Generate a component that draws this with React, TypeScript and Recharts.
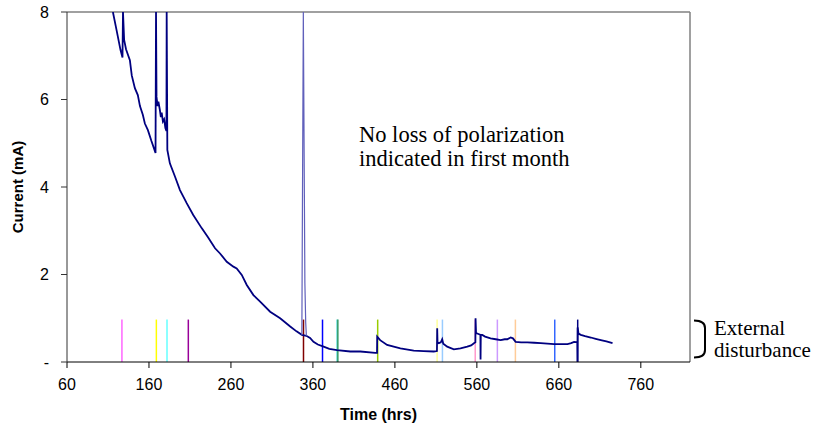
import React from 'react';
import { LineChart, Line, XAxis, YAxis, ReferenceLine } from 'recharts';

// Current decay (mA) over time (hrs)
const currentData = [
  { t: 116, v: 8.0 }, { t: 120.4, v: 7.59 }, { t: 125.3, v: 7.13 }, { t: 127.7, v: 6.96 },
  { t: 128.3, v: 8.0 }, { t: 129.7, v: 7.36 }, { t: 132, v: 7.15 }, { t: 136.7, v: 6.9 },
  { t: 139, v: 6.55 }, { t: 142.8, v: 6.26 }, { t: 146.4, v: 6.1 }, { t: 149, v: 5.85 },
  { t: 152.5, v: 5.65 }, { t: 155, v: 5.45 }, { t: 158.7, v: 5.3 }, { t: 163, v: 5.05 },
  { t: 168, v: 4.78 }, { t: 168.6, v: 8.0 }, { t: 169.2, v: 6.06 }, { t: 170.5, v: 5.85 },
  { t: 171.5, v: 5.95 }, { t: 173.3, v: 5.76 }, { t: 174.5, v: 5.6 }, { t: 175.5, v: 5.7 },
  { t: 177, v: 5.5 }, { t: 178.5, v: 5.55 }, { t: 180, v: 5.35 }, { t: 181.3, v: 5.28 },
  { t: 181.6, v: 8.0 }, { t: 182.4, v: 4.85 }, { t: 185.5, v: 4.54 }, { t: 191.7, v: 4.24 },
  { t: 197.8, v: 3.93 }, { t: 206, v: 3.63 }, { t: 214, v: 3.36 }, { t: 224.3, v: 3.06 },
  { t: 232, v: 2.85 }, { t: 240.6, v: 2.6 }, { t: 246.7, v: 2.48 }, { t: 254.9, v: 2.29 },
  { t: 263, v: 2.18 }, { t: 267, v: 2.14 }, { t: 273.2, v: 1.99 }, { t: 279.3, v: 1.76 },
  { t: 287.4, v: 1.53 }, { t: 295.6, v: 1.38 }, { t: 307.8, v: 1.15 }, { t: 320, v: 1.0 },
  { t: 332.3, v: 0.81 }, { t: 340, v: 0.7 }, { t: 346.5, v: 0.62 }, { t: 352, v: 0.6 },
  { t: 356.5, v: 0.55 }, { t: 360.7, v: 0.46 }, { t: 366, v: 0.4 }, { t: 373, v: 0.35 },
  { t: 380, v: 0.3 }, { t: 389.3, v: 0.27 }, { t: 405.6, v: 0.24 }, { t: 417.8, v: 0.24 },
  { t: 436, v: 0.21 }, { t: 438.2, v: 0.21 }, { t: 438.4, v: 0.58 }, { t: 442, v: 0.5 },
  { t: 450.5, v: 0.39 }, { t: 466.7, v: 0.31 }, { t: 483, v: 0.26 }, { t: 495, v: 0.25 },
  { t: 507.4, v: 0.24 }, { t: 511.3, v: 0.25 }, { t: 511.6, v: 0.77 }, { t: 512, v: 0.45 },
  { t: 513.5, v: 0.43 }, { t: 516, v: 0.45 }, { t: 517.7, v: 0.52 }, { t: 519, v: 0.42 },
  { t: 523.8, v: 0.35 }, { t: 531.9, v: 0.29 }, { t: 540, v: 0.31 }, { t: 548.3, v: 0.35 },
  { t: 553, v: 0.38 }, { t: 556.4, v: 0.43 }, { t: 558.2, v: 0.45 }, { t: 558.4, v: 1.0 },
  { t: 559, v: 0.66 }, { t: 562, v: 0.64 }, { t: 564.3, v: 0.62 }, { t: 564.5, v: 0.06 },
  { t: 564.8, v: 0.62 }, { t: 566.6, v: 0.62 }, { t: 570, v: 0.58 }, { t: 576.7, v: 0.54 },
  { t: 583, v: 0.52 }, { t: 589, v: 0.5 }, { t: 594, v: 0.52 }, { t: 597.2, v: 0.52 },
  { t: 601.2, v: 0.56 }, { t: 604, v: 0.54 }, { t: 607.3, v: 0.46 }, { t: 614, v: 0.45 },
  { t: 621.6, v: 0.45 }, { t: 630, v: 0.44 }, { t: 637.9, v: 0.43 }, { t: 646, v: 0.42 },
  { t: 654.2, v: 0.41 }, { t: 662, v: 0.41 }, { t: 670.5, v: 0.41 }, { t: 675, v: 0.43 },
  { t: 678.6, v: 0.46 }, { t: 682.5, v: 0.45 }, { t: 682.7, v: 0.0 }, { t: 682.9, v: 0.79 },
  { t: 684, v: 0.65 }, { t: 686.8, v: 0.62 }, { t: 692, v: 0.59 }, { t: 699, v: 0.56 },
  { t: 705, v: 0.53 }, { t: 711.2, v: 0.5 }, { t: 718, v: 0.47 }, { t: 725.5, v: 0.43 },
];

// the large transient near 348 hrs (drawn thinner / lighter)
const spikeData = [
  { t: 346.5, v: 0.62 }, { t: 348.3, v: 8.0 }, { t: 350.2, v: 1.8 }, { t: 351.2, v: 0.9 }, { t: 352, v: 0.6 },
];

// external disturbance markers
const markerTimes = [127, 169, 182, 208, 348.5, 371.7, 389.4, 390.4, 439, 511.5, 518, 558, 585, 607, 655, 683];
const markerColors = [
  '#FF66FF', '#FFFF00', '#66FFFF', '#990099', '#800000', '#0000FF', '#66DDDD', '#339966',
  '#99CC00', '#FFFF99', '#99CCFF', '#FF99CC', '#CC99FF', '#FFCC99', '#3366FF', '#000080',
];
const markerTop = 0.97;

const xTicks = [60, 160, 260, 360, 460, 560, 660, 760];
const yTicks = [0, 2, 4, 6, 8];

const serif = '"Liberation Serif", "Times New Roman", serif';
const sans = '"Liberation Sans", Arial, sans-serif';

export default function App() {
  return (
    <div style={{ position: 'absolute', left: 0, top: 0, width: 817, height: 427, background: '#fff' }}>
      <LineChart width={817} height={427} margin={{ top: 12, right: 127, bottom: 5, left: 20 }}>
        <XAxis
          type="number"
          dataKey="t"
          domain={[60, 820]}
          ticks={xTicks}
          allowDataOverflow
          stroke="#000"
          tickSize={6}
          tickMargin={11}
          height={60}
          tick={{ fill: '#000', fontSize: 16, fontFamily: sans }}
          label={{ value: 'Time (hrs)', position: 'insideBottom', offset: 2, fill: '#000', fontSize: 16, fontWeight: 'bold', fontFamily: sans }}
        />
        <YAxis
          type="number"
          domain={[0, 8]}
          ticks={yTicks}
          allowDataOverflow
          width={47}
          stroke="#333"
          tickSize={6}
          tickMargin={12}
          tickFormatter={(v: number) => (v === 0 ? '-' : String(v))}
          tick={{ fill: '#000', fontSize: 16, fontFamily: sans }}
          label={{ value: 'Current (mA)', angle: -90, position: 'insideLeft', offset: -2, fill: '#000', fontSize: 15, fontWeight: 'bold', fontFamily: sans, style: { textAnchor: 'middle' } }}
        />
        <ReferenceLine y={8} stroke="#808080" strokeWidth={1.5} />
        <ReferenceLine x={820} stroke="#808080" strokeWidth={1.5} />
        {markerTimes.map((t, i) => (
          <ReferenceLine
            key={i}
            segment={[{ x: t, y: 0 }, { x: t, y: markerTop }]}
            stroke={markerColors[i]}
            strokeWidth={1.5}
          />
        ))}
        <Line
          data={currentData}
          dataKey="v"
          type="linear"
          stroke="#000080"
          strokeWidth={1.8}
          dot={false}
          isAnimationActive={false}
        />
        <Line
          data={spikeData}
          dataKey="v"
          type="linear"
          stroke="#6060BB"
          strokeWidth={1.2}
          dot={false}
          isAnimationActive={false}
        />
      </LineChart>
      <svg width={817} height={427} style={{ position: 'absolute', left: 0, top: 0, pointerEvents: 'none' }}>
        <text x={359} y={142} fontFamily={serif} fontSize={22.5} fill="#000">No loss of polarization</text>
        <text x={359} y={166} fontFamily={serif} fontSize={22.5} fill="#000">indicated in first month</text>
        <path d="M 694 320.5 Q 705 320.5 705 328 L 705 350 Q 705 357.5 694 357.5" fill="none" stroke="#000" strokeWidth={2} />
        <text x={714} y={335} fontFamily={serif} fontSize={21} fill="#000">External</text>
        <text x={714} y={357} fontFamily={serif} fontSize={21} fill="#000">disturbance</text>
      </svg>
    </div>
  );
}
